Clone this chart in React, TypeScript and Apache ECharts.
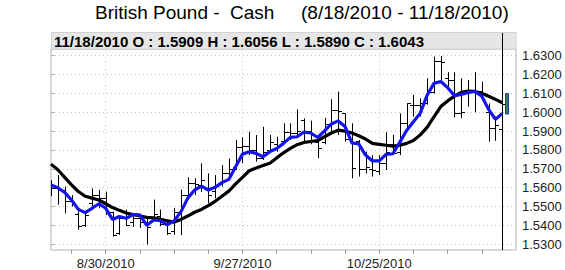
import React, { useEffect, useRef } from 'react';
import * as echarts from 'echarts';

const FONT = "'Liberation Sans', Arial, Helvetica, sans-serif";

const titleParts = ['British Pound -', 'Cash', '(8/18/2010 - 11/18/2010)'];
const headerText = '11/18/2010 O : 1.5909 H : 1.6056 L : 1.5890 C : 1.6043';

// trading days 8/18/2010 .. 11/18/2010
const dates: string[] = [];
const mondayIdx: number[] = [];
(() => {
  const d = new Date(2010, 7, 18);
  const end = new Date(2010, 10, 18);
  while (d <= end) {
    const wd = d.getDay();
    if (wd !== 0 && wd !== 6) {
      if (wd === 1) mondayIdx.push(dates.length);
      dates.push(`${d.getMonth() + 1}/${d.getDate()}/${d.getFullYear()}`);
    }
    d.setDate(d.getDate() + 1);
  }
})();

const xLabelDates = ['8/30/2010', '9/27/2010', '10/25/2010'];
const yTicks = [1.53, 1.54, 1.55, 1.56, 1.57, 1.58, 1.59, 1.6, 1.61, 1.62, 1.63];

const opens = [1.5580,1.5600,1.5590,1.5530,1.5460,1.5400,1.5520,1.5560,1.5545,1.5470,
  1.5360,1.5440,1.5420,1.5440,1.5420,1.5440,1.5450,1.5410,1.5370,1.5470,
  1.5560,1.5627,1.5615,1.5600,1.5580,1.5620,1.5680,1.5710,1.5815,1.5820,
  1.5800,1.5760,1.5800,1.5830,1.5850,1.5897,1.5890,1.5960,1.5900,1.5840,
  1.5840,1.5940,1.6012,1.5994,1.5860,1.5849,1.5700,1.5700,1.5690,1.5730,
  1.5830,1.5790,1.5941,1.6040,1.6040,1.6050,1.6109,1.6270,1.6180,1.6170,
  1.5994,1.6100,1.6110,1.6110,1.6000,1.5915,1.5909];
const highs = [1.5640,1.5667,1.5606,1.5561,1.5475,1.5470,1.5597,1.5588,1.5579,1.5473,
  1.5450,1.5484,1.5466,1.5449,1.5449,1.5537,1.5484,1.5431,1.5493,1.5590,
  1.5655,1.5650,1.5729,1.5676,1.5667,1.5720,1.5755,1.5853,1.5867,1.5897,
  1.5879,1.5923,1.5879,1.5870,1.5941,1.5941,1.6015,1.5967,1.5955,1.5870,
  1.5970,1.6069,1.6109,1.5994,1.5941,1.5853,1.5791,1.5773,1.5773,1.5894,
  1.5880,1.5994,1.6047,1.6092,1.6074,1.6180,1.6295,1.6298,1.6212,1.6212,
  1.6180,1.6171,1.6212,1.6162,1.6047,1.5977,1.6056];
const lows = [1.5555,1.5510,1.5465,1.5500,1.5378,1.5392,1.5500,1.5491,1.5456,1.5341,
  1.5350,1.5396,1.5392,1.5387,1.5299,1.5422,1.5396,1.5350,1.5350,1.5348,
  1.5537,1.5561,1.5578,1.5518,1.5544,1.5606,1.5641,1.5694,1.5729,1.5773,
  1.5738,1.5747,1.5791,1.5791,1.5835,1.5853,1.5879,1.5844,1.5830,1.5756,
  1.5830,1.5897,1.5880,1.5844,1.5650,1.5659,1.5676,1.5659,1.5667,1.5694,
  1.5773,1.5773,1.5906,1.5977,1.5977,1.6040,1.6100,1.6170,1.6127,1.5973,
  1.5968,1.6030,1.6000,1.6092,1.5844,1.5849,1.5890];
const closes = [1.5597,1.5590,1.5530,1.5520,1.5397,1.5455,1.5560,1.5545,1.5470,1.5350,
  1.5440,1.5400,1.5440,1.5420,1.5390,1.5460,1.5410,1.5360,1.5470,1.5560,
  1.5627,1.5620,1.5640,1.5560,1.5610,1.5680,1.5700,1.5815,1.5820,1.5800,
  1.5760,1.5790,1.5840,1.5820,1.5897,1.5890,1.5900,1.5900,1.5880,1.5810,
  1.5940,1.6012,1.6005,1.5860,1.5706,1.5700,1.5710,1.5695,1.5730,1.5790,
  1.5785,1.5941,1.6047,1.6040,1.6050,1.6109,1.6270,1.6265,1.6170,1.5994,
  1.6000,1.6110,1.6110,1.6100,1.5915,1.5930,1.6043];

const maShort = [1.5615,1.5600,1.5575,1.5535,1.5485,1.5468,1.5491,1.5515,1.5491,1.5432,
  1.5447,1.5438,1.5458,1.5456,1.5400,1.5429,1.5425,1.5403,1.5425,1.5472,
  1.5545,1.5588,1.5608,1.5588,1.5602,1.5627,1.5644,1.5711,1.5778,1.5791,
  1.5782,1.5764,1.5791,1.5808,1.5835,1.5867,1.5870,1.5895,1.5890,1.5866,
  1.5901,1.5938,1.5954,1.5924,1.5838,1.5832,1.5773,1.5742,1.5742,1.5777,
  1.5780,1.5840,1.5903,1.5950,1.5995,1.6090,1.6153,1.6163,1.6130,1.6088,
  1.6094,1.6105,1.6110,1.6085,1.6015,1.5962,1.5994];
const maLong = [1.5725,1.5695,1.5655,1.5615,1.5580,1.5555,1.5545,1.5535,1.5515,1.5495,
  1.5480,1.5466,1.5458,1.5450,1.5443,1.5440,1.5432,1.5425,1.5418,1.5432,
  1.5450,1.5470,1.5485,1.5505,1.5528,1.5555,1.5582,1.5620,1.5655,1.5690,
  1.5705,1.5718,1.5730,1.5758,1.5785,1.5808,1.5828,1.5840,1.5845,1.5850,
  1.5870,1.5890,1.5905,1.5900,1.5890,1.5875,1.5858,1.5835,1.5830,1.5825,
  1.5820,1.5825,1.5835,1.5850,1.5880,1.5920,1.5975,1.6030,1.6060,1.6085,
  1.6105,1.6112,1.6110,1.6100,1.6085,1.6068,1.6050];

const labelIdx = xLabelDates.map((d) => dates.indexOf(d));
const lastIdx = dates.length - 1;

export default function App() {
  const ref = useRef<HTMLDivElement>(null);
  useEffect(() => {
    document.body.style.margin = '0';
    if (!ref.current) return;
    const chart = echarts.init(ref.current, undefined, { renderer: 'svg' });

    const baseGraphic: any[] = [
      { type: 'text', left: 95, top: 3, style: { text: titleParts[0], font: `19px ${FONT}`, fill: '#000' } },
      { type: 'text', left: 230, top: 3, style: { text: titleParts[1], font: `19px ${FONT}`, fill: '#000' } },
      { type: 'text', left: 301, top: 3, style: { text: titleParts[2], font: `19px ${FONT}`, fill: '#000' } },
      { type: 'rect', shape: { x: 51.5, y: 32.5, width: 464.5, height: 16.5 }, style: { fill: '#e6e6e6', stroke: '#d2d2d2', lineWidth: 1 }, z: 0 },
      { type: 'text', x: 54, y: 41, style: { text: headerText, font: `bold 15px ${FONT}`, fill: '#000', textVerticalAlign: 'middle' }, z: 1 },
      { type: 'rect', shape: { x: 505.5, y: 93.5, width: 3, height: 20.5 }, style: { fill: '#2f7f68', stroke: '#1c3c8c', lineWidth: 1 }, z: 10 },
    ];

    const option: any = {
      animation: false,
      backgroundColor: '#fff',
      graphic: baseGraphic,
      grid: { left: 51, right: 49, top: 49, bottom: 20, show: true, borderColor: '#b4b4b4', borderWidth: 1, backgroundColor: '#fff' },
      xAxis: {
        type: 'value', min: 0, max: 68, position: 'bottom',
        axisLine: { show: true, onZero: false, lineStyle: { color: '#000', width: 2, shadowColor: 'rgba(0,0,0,0.35)', shadowOffsetY: 2 } },
        axisTick: { show: true, customValues: mondayIdx, length: 4, lineStyle: { color: '#999' } },
        axisLabel: { show: true, customValues: labelIdx, formatter: (v: number) => dates[Math.round(v)], color: '#222', fontSize: 13, fontFamily: FONT, margin: 7 },
        splitLine: { show: false },
      },
      yAxis: {
        type: 'value', position: 'right', min: 1.527, max: 1.6335,
        axisLine: { show: true, lineStyle: { color: '#000', width: 2, shadowColor: 'rgba(0,0,0,0.35)', shadowOffsetX: 2 } },
        axisTick: { show: true, customValues: yTicks, length: 3, lineStyle: { color: '#999' } },
        axisLabel: { show: true, customValues: yTicks, formatter: (v: number) => v.toFixed(4), color: '#222', fontSize: 13, fontFamily: FONT, margin: 6 },
        splitLine: { show: false },
      },
      series: [
        {
          type: 'custom', z: 2, clip: true,
          data: dates.map((_, i) => [i, opens[i], highs[i], lows[i], closes[i]]),
          encode: { x: 0, y: [1, 2, 3, 4] },
          renderItem: (_p: any, api: any) => {
            const i = api.value(0);
            const x = api.coord([i, api.value(1)])[0];
            const yO = Math.round(api.coord([i, api.value(1)])[1]) + 0.5;
            const yH = api.coord([i, api.value(2)])[1];
            const yL = api.coord([i, api.value(3)])[1];
            const yC = Math.round(api.coord([i, api.value(4)])[1]) + 0.5;
            const cx = Math.round(x) + 0.5;
            const style = { stroke: '#000', lineWidth: 1 };
            return {
              type: 'group',
              children: [
                { type: 'line', shape: { x1: cx, y1: yH, x2: cx, y2: yL }, style },
                { type: 'line', shape: { x1: cx - 3.5, y1: yO, x2: cx, y2: yO }, style },
                { type: 'line', shape: { x1: cx, y1: yC, x2: cx + 3.5, y2: yC }, style },
              ],
            };
          },
        },
        {
          type: 'line', z: 3, showSymbol: false, silent: true,
          data: maLong.map((v, i) => [i, v]),
          lineStyle: { color: '#000', width: 3.2 },
          markLine: {
            z: 1, silent: true, symbol: ['none', 'none'], label: { show: false },
            emphasis: { disabled: true },
            lineStyle: { color: '#c4c4c4', type: [1, 3], width: 1 },
            data: [...yTicks.map((v) => ({ yAxis: v })), ...labelIdx.map((i) => ({ xAxis: i }))],
          },
        },
        {
          type: 'line', z: 4, showSymbol: false, silent: true,
          data: maShort.map((v, i) => [i, v]),
          lineStyle: { color: '#1414f0', width: 3.2 },
          markLine: {
            silent: true, symbol: ['none', 'none'], label: { show: false },
            emphasis: { disabled: true },
            lineStyle: { color: '#000', type: 'solid', width: 1 },
            data: [{ xAxis: lastIdx }],
          },
        },
      ],
    };
    chart.setOption(option);
    const px = chart.convertToPixel({ xAxisIndex: 0 } as any, lastIdx) as number;
    const lx = Math.round(px) + 0.5;
    chart.setOption({
      graphic: [
        ...baseGraphic,
        { type: 'line', shape: { x1: lx, y1: 33, x2: lx, y2: 49 }, style: { stroke: '#000', lineWidth: 1 }, z: 2 },
      ],
    });
    return () => chart.dispose();
  }, []);
  return <div ref={ref} style={{ position: 'fixed', left: 0, top: 0, width: 565, height: 270 }} />;
}
